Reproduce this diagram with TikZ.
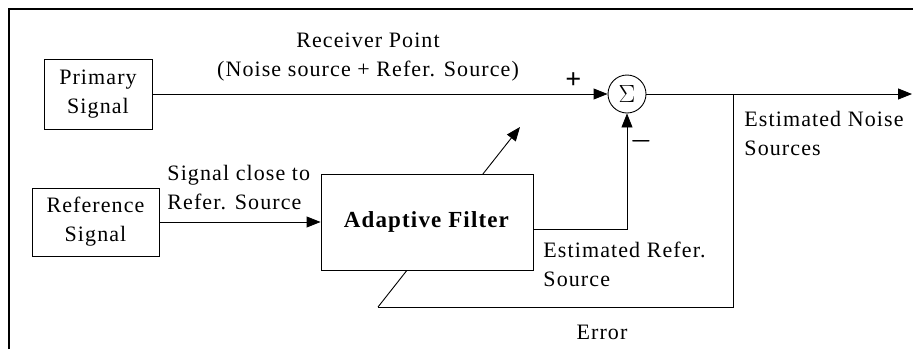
\documentclass[tikz,border=0pt]{standalone}
\usepackage{amsmath}
\usepackage{fontspec}
\setmainfont{Liberation Serif}[LetterSpace=5]
\usetikzlibrary{arrows.meta}

\begin{document}
\begin{tikzpicture}[x=1pt,y=-1pt,line width=0.9pt,
  font=\fontsize{22}{29}\selectfont,
  blk/.style={draw,fill=white,align=center,inner sep=2pt},
  arr/.style={-{Triangle[length=14pt,width=11pt]}},
  lbl/.style={align=left,inner sep=0pt}]
\useasboundingbox (0,0) rectangle (913,349);
% frame
\draw[line width=1.3pt] (9,349) -- (9,9) -- (913,9);
% error path behind the filter
\coordinate (tap) at (733,94);
\coordinate (errL) at (378,307);
\coordinate (adj) at (520,127);
\coordinate (out) at (912,94);
\draw (tap) |- (errL);
\draw[arr] (errL) -- (adj);
% blocks
\node [blk,minimum width=108,minimum height=70] (prim) at (98,94) {Primary\\Signal};
\node [blk,minimum width=127,minimum height=68] (ref) at (95.5,222) {Reference\\Signal};
\node [blk,minimum width=212,minimum height=96] (filt) at (427,222) {\fontsize{23}{29}\selectfont\textbf{Adaptive Filter}};
\node [circle,draw,minimum size=38,inner sep=0pt] (sum) at (627,94) {\fontsize{27}{27}\selectfont$\Sigma$};
% connectors
\draw[arr] (prim) -- (sum);
\draw[arr] (ref) -- (filt);
\draw[arr] ([yshift=-7pt]filt.east) -| (sum.south);
\draw[arr] (sum) -- (out);
% labels
\node [align=center] (rcv) at (368,57) {Receiver Point\\(Noise source + Refer. Source)};
\node (plus) at (574,81) {\fontsize{28}{28}\selectfont\textbf{+}};
\node (minus) at (641,141) {\fontsize{28}{28}\selectfont$\boldsymbol{-}$};
\node [lbl,anchor=west] (noise) at (744,133) {Estimated Noise\\Sources};
\node [lbl,anchor=west] (close) at (167,188) {Signal close to\\Refer. Source};
\node [lbl,anchor=west] (estref) at (543,264) {Estimated Refer.\\Source};
\node (err) at (602,332) {Error};
\end{tikzpicture}
\end{document}
